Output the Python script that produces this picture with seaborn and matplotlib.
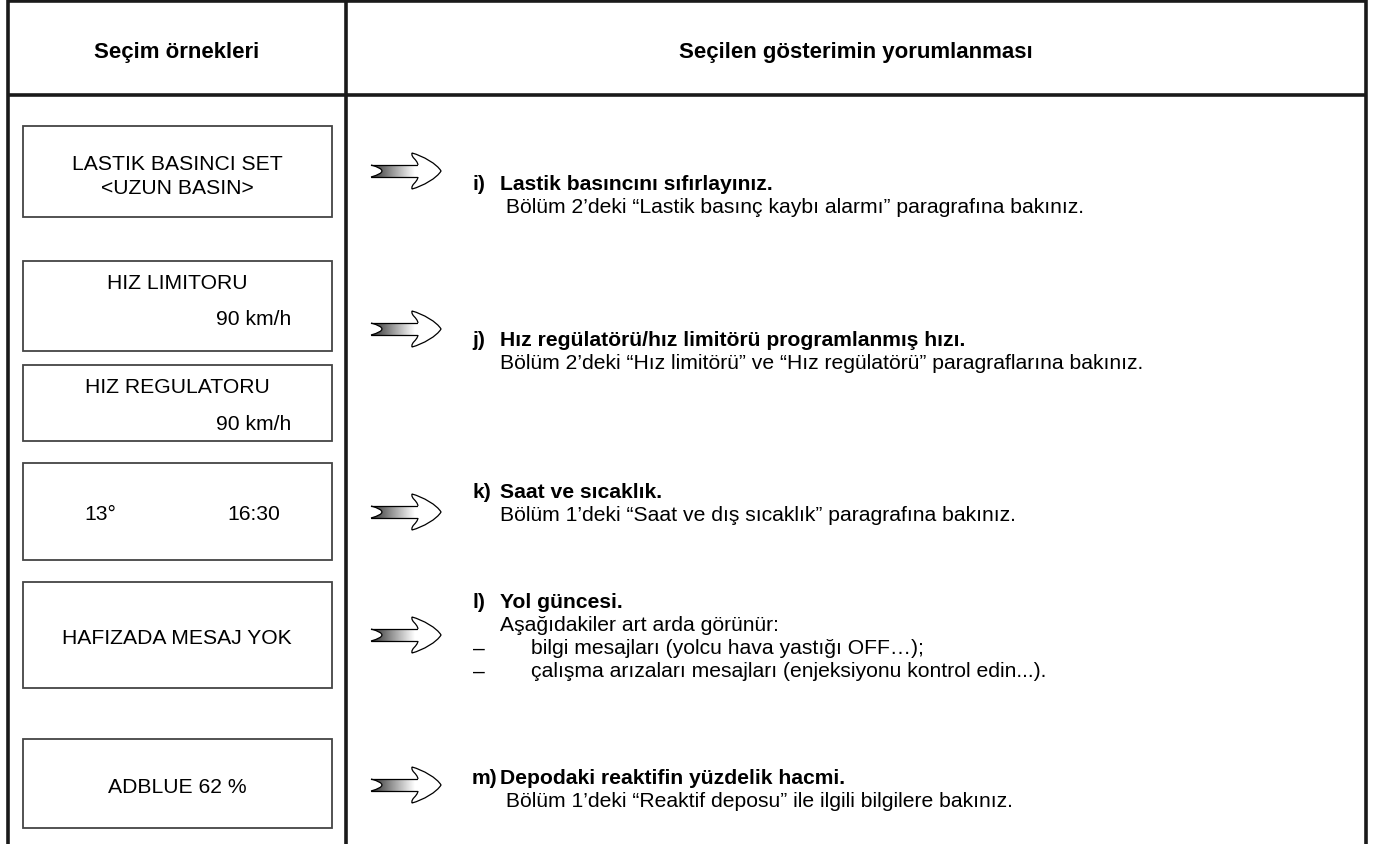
import numpy as np
import matplotlib
matplotlib.use("Agg")
import matplotlib.pyplot as plt
from matplotlib.path import Path
from matplotlib.patches import PathPatch, Rectangle
from matplotlib.colors import LinearSegmentedColormap
import seaborn as sns

sns.set_style("white")
plt.rcParams['font.family'] = ['Liberation Sans', 'DejaVu Sans']

# --- table content ---
header_left = "Seçim örnekleri"
header_right = "Seçilen gösterimin yorumlanması"

# display screens (left column)
box_top = [127, 262, 366, 464, 583, 740]
box_bottom = [218, 352, 442, 561, 689, 829]
box_lines = [["LASTIK BASINCI SET", "<UZUN BASIN>"],
             ["HIZ LIMITORU"],
             ["HIZ REGULATORU"],
             [],
             ["HAFIZADA MESAJ YOK"],
             ["ADBLUE 62 %"]]
speed_text = "90 km/h"
temp_text = "13°"
clock_text = "16:30"

# interpretations (right column)
item_labels = ["i)", "j)", "k)", "l)", "m)"]
item_titles = ["Lastik basıncını sıfırlayınız.",
               "Hız regülatörü/hız limitörü programlanmış hızı.",
               "Saat ve sıcaklık.",
               "Yol güncesi.",
               "Depodaki reaktifin yüzdelik hacmi."]
item_bodies = [[" Bölüm 2’deki “Lastik basınç kaybı alarmı” paragrafına bakınız."],
               ["Bölüm 2’deki “Hız limitörü” ve “Hız regülatörü” paragraflarına bakınız."],
               ["Bölüm 1’deki “Saat ve dış sıcaklık” paragrafına bakınız."],
               ["Aşağıdakiler art arda görünür:"],
               [" Bölüm 1’deki “Reaktif deposu” ile ilgili bilgilere bakınız."]]
l_bullets = ["bilgi mesajları (yolcu hava yastığı OFF…);",
             "çalışma arızaları mesajları (enjeksiyonu kontrol edin...)."]
title_y = [183, 339, 491, 601, 777]
arrow_y = [172, 330, 513, 636, 786]

W, H = 1373, 845
fig = plt.figure(figsize=(W / 100, H / 100), dpi=100)
ax = fig.add_axes([0, 0, 1, 1])

FS = 15.2
FSH = 16


def put(x, yc, s, ha='left', weight='normal', size=FS):
    # yc is the visual centre of the capitals
    ax.text(x, yc + size * 0.49, s, ha=ha, va='baseline', fontsize=size,
            weight=weight, color='black')


# outer frame
frame = dict(color='#1a1a1a', lw=2.6, solid_capstyle='butt')
ax.plot([8, 8], [1, H], **frame)
ax.plot([1366, 1366], [1, H], **frame)
ax.plot([346, 346], [1, H], **frame)
ax.plot([8, 1366], [2, 2], **frame)
ax.plot([8, 1366], [96, 96], **frame)

put(177, 50, header_left, ha='center', weight='bold', size=FSH)
put(856, 50, header_right, ha='center', weight='bold', size=FSH)

# screens
for i, (t, b) in enumerate(zip(box_top, box_bottom)):
    ax.add_patch(Rectangle((23, t), 309, b - t, fill=False, ec='#444444', lw=1.3))
lines = box_lines[0]
put(177, 163, lines[0], ha='center')
put(177, 187, lines[1], ha='center')
put(177, 282, box_lines[1][0], ha='center')
put(291, 318, speed_text, ha='right')
put(177, 386, box_lines[2][0], ha='center')
put(291, 423, speed_text, ha='right')
put(100, 513, temp_text, ha='center')
put(254, 513, clock_text, ha='center')
put(177, 637, box_lines[4][0], ha='center')
put(177, 786, box_lines[5][0], ha='center')

# arrows
cmap = LinearSegmentedColormap.from_list('g', ['#2e2e2e', '#9a9a9a', '#ffffff'])
grad = np.linspace(0, 1, 200).reshape(1, -1)


def arrow(x0, yc):
    hw = 6
    shaft = Path([(x0, yc - hw), (x0 + 50, yc - hw), (x0 + 50, yc + hw), (x0, yc + hw),
                  (x0 + 22, yc), (x0, yc - hw)],
                 [Path.MOVETO, Path.LINETO, Path.LINETO, Path.LINETO,
                  Path.CURVE3, Path.CURVE3])
    sp = PathPatch(shaft, fc='none', ec='none', transform=ax.transData)
    ax.add_patch(sp)
    im = ax.imshow(grad, extent=[x0, x0 + 44, yc + hw, yc - hw], cmap=cmap,
                   aspect='auto', interpolation='bilinear', zorder=2)
    im.set_clip_path(sp)
    # shaft outline
    ax.plot([x0, x0 + 46], [yc - hw, yc - hw], color='black', lw=0.9, zorder=3)
    ax.plot([x0, x0 + 46], [yc + hw, yc + hw], color='black', lw=0.9, zorder=3)
    notch = Path([(x0, yc - hw), (x0 + 22, yc), (x0, yc + hw)],
                 [Path.MOVETO, Path.CURVE3, Path.CURVE3])
    ax.add_patch(PathPatch(notch, fc='none', ec='black', lw=0.9, zorder=3))
    # head
    verts = [(x0 + 47, yc - hw),
             (x0 + 46, yc - 12), (x0 + 40, yc - 13), (x0 + 41, yc - 18),
             (x0 + 52, yc - 15), (x0 + 66, yc - 7), (x0 + 70, yc),
             (x0 + 66, yc + 7), (x0 + 52, yc + 15), (x0 + 41, yc + 18),
             (x0 + 40, yc + 13), (x0 + 46, yc + 12), (x0 + 47, yc + hw)]
    codes = [Path.MOVETO] + [Path.CURVE4] * 12
    head = Path(verts, codes)
    ax.add_patch(PathPatch(Path(verts + [verts[0]], codes + [Path.LINETO]),
                           fc='white', ec='none', zorder=2.5))
    ax.add_patch(PathPatch(head, fc='none', ec='black', lw=0.9, zorder=3))


for yc in arrow_y:
    arrow(371, yc)

# interpretation texts
for lab, tit, body, ty in zip(item_labels, item_titles, item_bodies, title_y):
    put(472, ty, lab, weight='bold')
    put(500, ty, tit, weight='bold')
    for k, s in enumerate(body):
        put(500, ty + 23 * (k + 1), s)
for k, s in enumerate(l_bullets):
    yb = title_y[3] + 23 * (k + 2)
    put(473, yb, "–")
    put(531, yb, s)

ax.set_xlim(0, W)
ax.set_ylim(H, 0)
ax.axis('off')
fig.savefig("out.png", dpi=100, facecolor='white')
